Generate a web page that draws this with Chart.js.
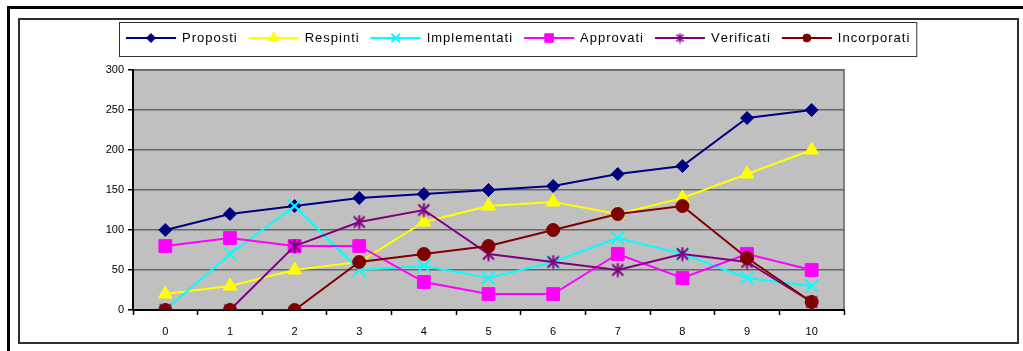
<!DOCTYPE html>
<html>
<head>
<meta charset="utf-8">
<title>Requisiti per versione</title>
<script src="https://cdn.jsdelivr.net/npm/chart.js@4.4.1/dist/chart.umd.min.js"></script>
<style>
  html, body { margin: 0; padding: 0; background: #fff; width: 1023px; height: 351px; overflow: hidden; }
  #outer { position: absolute; left: 7px; top: 6px; width: 1100px; height: 400px;
           border-top: 3px solid #000; border-left: 3px solid #000; }
  #frame { position: absolute; left: 18px; top: 18px; width: 1001px; height: 326px;
           box-sizing: border-box; border: 2px solid #303030; background: #fff; }
  #frame canvas { display: block; }
</style>
</head>
<body>
<div id="outer"></div>
<div id="frame"><canvas id="chart" width="997" height="322"></canvas></div>
<script>
// Categories (release number) and tick values of the value axis
const categories = ['0', '1', '2', '3', '4', '5', '6', '7', '8', '9', '10'];
const yTickValues = [0, 50, 100, 150, 200, 250, 300];

// One list per series
const seriesNames = ['Proposti', 'Respinti', 'Implementati', 'Approvati', 'Verificati', 'Incorporati'];
const proposti     = [100, 120, 130, 140, 145, 150, 155, 170, 180, 240, 250];
const respinti     = [20, 30, 50, 60, 110, 130, 135, 120, 140, 170, 200];
const implementati = [0, 70, 130, 50, 55, 40, 60, 90, 70, 40, 30];
const approvati    = [80, 90, 80, 80, 35, 20, 20, 70, 40, 70, 50];
const verificati   = [0, 0, 80, 110, 125, 70, 60, 50, 70, 60, 10];
const incorporati  = [0, 0, 0, 60, 70, 80, 100, 120, 130, 65, 10];
const seriesValues = [proposti, respinti, implementati, approvati, verificati, incorporati];

// Six-armed asterisk marker (an X crossed by a vertical stroke)
function asteriskMarker(size, color, width) {
  const cv = document.createElement('canvas');
  cv.width = size; cv.height = size;
  const g = cv.getContext('2d');
  const m = 1.5, c = size / 2;
  g.strokeStyle = color;
  g.lineWidth = width;
  g.beginPath();
  g.moveTo(m + 0.5, m + 0.5); g.lineTo(size - m - 0.5, size - m - 0.5);
  g.moveTo(size - m - 0.5, m + 0.5); g.lineTo(m + 0.5, size - m - 0.5);
  g.moveTo(c, 0.5); g.lineTo(c, size - 0.5);
  g.stroke();
  return cv;
}

// Look of each series (colour and marker)
const seriesStyles = [
  { color: '#000080', pointStyle: 'rectRot',  radius: 6.5, borderWidth: 1, legendRadius: 4.5 },
  { color: '#ffff00', pointStyle: 'triangle', radius: 8,   borderWidth: 1, legendRadius: 6 },
  { color: '#00ffff', pointStyle: 'crossRot', radius: 9,   borderWidth: 2, legendRadius: 6 },
  { color: '#ff00ff', pointStyle: 'rect',     radius: 9,   borderWidth: 1, legendRadius: 6 },
  { color: '#800080', pointStyle: asteriskMarker(15, '#800080', 2), legendStyle: asteriskMarker(11, '#800080', 1.6),
    radius: 7.5, borderWidth: 2, legendRadius: 5.5 },
  { color: '#800000', pointStyle: 'circle',   radius: 6.5, borderWidth: 1, legendRadius: 4 }
];

const FONT = "'Liberation Sans', Arial, sans-serif";

const datasets = seriesNames.map((name, i) => {
  const st = seriesStyles[i];
  return {
    label: name,
    data: seriesValues[i],
    borderColor: st.color,
    backgroundColor: st.color,
    borderWidth: 2,
    tension: 0,
    fill: false,
    pointStyle: st.pointStyle,
    pointRadius: st.radius,
    pointHoverRadius: st.radius,
    pointBorderWidth: st.borderWidth,
    pointBackgroundColor: st.color,
    pointBorderColor: st.color,
    order: seriesNames.length - i   // later series are painted on top
  };
});

// Grey plot area with its top and right edges
const plotBackground = {
  id: 'plotBackground',
  beforeDraw(chart) {
    const { ctx, chartArea: a } = chart;
    ctx.save();
    ctx.fillStyle = '#c0c0c0';
    ctx.fillRect(a.left, a.top, a.right - a.left, a.bottom - a.top);
    ctx.strokeStyle = '#808080';
    ctx.lineWidth = 2;
    ctx.beginPath();
    ctx.moveTo(a.left, a.top);
    ctx.lineTo(a.right, a.top);
    ctx.lineTo(a.right, a.bottom);
    ctx.stroke();
    ctx.restore();
  }
};

// Framed legend in one row: line + marker sample, then the series name
const lineLegend = {
  id: 'lineLegend',
  afterDraw(chart, _args, opts) {
    const ctx = chart.ctx;
    const items = chart.data.datasets.map((ds, i) => ({ text: ds.label, st: seriesStyles[i] }));
    ctx.save();
    ctx.font = opts.fontSize + 'px ' + FONT;
    const textWidth = (s) => {
      let w = 0;
      for (const ch of s) w += ctx.measureText(ch).width + opts.spacing;
      return w - opts.spacing;
    };
    items.forEach(it => { it.w = opts.sample + opts.gap + textWidth(it.text); });
    const total = items.reduce((a, it) => a + it.w, 0) + opts.itemGap * (items.length - 1);
    let x = Math.round(opts.centerX - total / 2);
    const y = opts.rowY;

    // frame
    ctx.strokeStyle = '#333';
    ctx.lineWidth = 1;
    ctx.strokeRect(x - opts.margin + 0.5, opts.top + 0.5, total + 2 * opts.margin, opts.height);

    items.forEach(it => {
      const st = it.st;
      ctx.strokeStyle = st.color;
      ctx.fillStyle = st.color;
      ctx.lineWidth = 2;
      ctx.beginPath();
      ctx.moveTo(x, y);
      ctx.lineTo(x + opts.sample, y);
      ctx.stroke();
      ctx.lineWidth = st.borderWidth;
      Chart.helpers.drawPoint(ctx, { pointStyle: st.legendStyle || st.pointStyle, radius: st.legendRadius, borderWidth: st.borderWidth, rotation: 0 }, x + opts.sample / 2, y);

      ctx.fillStyle = '#000';
      ctx.textBaseline = 'middle';
      ctx.textAlign = 'left';
      let tx = x + opts.sample + opts.gap;
      for (const ch of it.text) {
        ctx.fillText(ch, tx, y + 0.5);
        tx += ctx.measureText(ch).width + opts.spacing;
      }
      x += it.w + opts.itemGap;
    });
    ctx.restore();
  }
};

new Chart(document.getElementById('chart'), {
  type: 'line',
  data: { labels: categories, datasets },
  plugins: [plotBackground, lineLegend],
  options: {
    responsive: false,
    animation: false,
    devicePixelRatio: 1,
    events: [],
    layout: { padding: { top: 50, right: 173, bottom: 0, left: 0 } },
    plugins: {
      tooltip: { enabled: false },
      title: { display: false },
      legend: { display: false },
      lineLegend: {
        centerX: 498, top: 2, height: 34, rowY: 18,
        fontSize: 13, spacing: 1, sample: 50, gap: 6, itemGap: 12, margin: 7
      }
    },
    scales: {
      x: {
        type: 'category',
        offset: true,
        grid: { offset: true, drawOnChartArea: false, drawTicks: true, tickLength: 5, tickColor: '#000', tickWidth: 1.5 },
        border: { display: true, color: '#000', width: 2 },
        ticks: { color: '#000', font: { family: FONT, size: 11 }, padding: 10, maxRotation: 0, autoSkip: false },
        afterFit(s) { s.height = 32; }
      },
      y: {
        min: 0,
        max: 300,
        afterBuildTicks(s) { s.ticks = yTickValues.map(v => ({ value: v })); },
        grid: { color: '#666', lineWidth: 1.5, tickLength: 5, tickColor: '#000', tickWidth: 1.5 },
        border: { display: true, color: '#000', width: 2 },
        ticks: { color: '#000', font: { family: FONT, size: 11 }, padding: 4 },
        afterFit(s) { s.width = 113; }
      }
    }
  }
});
</script>
</body>
</html>
